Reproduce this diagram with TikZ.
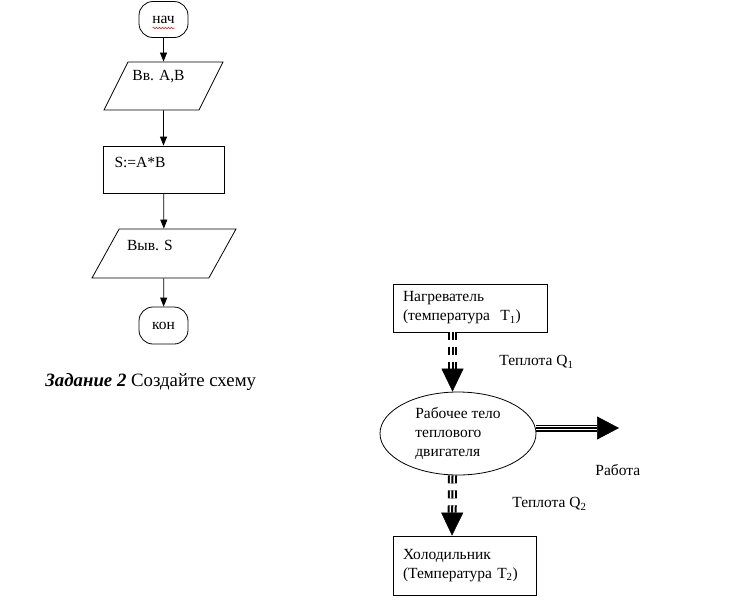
\documentclass[tikz,border=0pt]{standalone}
\usepackage{fontspec}
\setmainfont{Liberation Serif}
\usetikzlibrary{shapes.geometric,
                arrows.meta,
                decorations.pathmorphing}

\begin{document}
\begin{tikzpicture}[
  x=1pt, y=-1pt,
  font=\fontsize{15.5}{19}\selectfont,
  every node/.style = {line width=0.8pt},
  term/.style = {draw, rounded corners=14pt, minimum width=49pt,
      minimum height=36pt, inner sep=0pt},
  io/.style = {draw, trapezium, trapezium left angle=63.4,
      trapezium right angle=116.6, text depth=0pt, inner sep=0pt},
  proc/.style = {draw, minimum width=121pt, minimum height=47pt, inner sep=0pt},
  blok/.style = {draw, align=left, inner xsep=10pt, inner ysep=0pt},
  txt/.style = {anchor=west, inner sep=0pt},
  flowarrow/.style = {draw, line width=0.8pt, -{Triangle[width=7pt,length=9pt]}},
  heatpipe/.style = {draw, line width=2pt, double distance=5pt,
      dash pattern=on 8pt off 7pt, shorten >=23pt},
  heatcore/.style = {draw, line width=2pt, dash pattern=on 8pt off 7pt,
      -{Triangle[width=22pt,length=23pt,line width=0.5pt]}},
  workpipe/.style = {draw, line width=1.5pt, double distance=4pt, shorten >=22pt},
  workcore/.style = {draw, line width=1.5pt,
      -{Triangle[width=23pt,length=22pt,line width=0.5pt]}}
  ]
  \useasboundingbox (0,0) rectangle (735,611);
  % block scheme
  \node[term] (nach) at (163.5,19.5) {нач};
  \node[io, text width=71pt, text height=48pt,
      label={[xshift=-5pt,yshift=9pt]center:Вв. A,B}] (vvod) at (163.5,86) {};
  \node[proc, label={[xshift=-23.5pt,yshift=7.5pt]center:S:=A*B}] (umn) at (163.5,169.5) {};
  \node[io, trapezium left angle=61, trapezium right angle=119,
      text width=89.7pt, text height=49pt,
      label={[xshift=-14pt,yshift=8.5pt]center:Выв. S}] (vyvod) at (164,253.5) {};
  \node[term, minimum height=37pt] (kon) at (163.5,325.5) {кон};
  \foreach \a/\b in {nach/vvod, vvod/umn, umn/vyvod, vyvod/kon}
    \draw[flowarrow] (\a) -- (\b);
  \draw[red, line width=0.5pt, decorate,
      decoration={snake, amplitude=0.7pt, segment length=3pt}]
    ([shift={(-11pt,-8.5pt)}]nach.center) -- ([shift={(11pt,-8.5pt)}]nach.center);
  \node[txt, font=\fontsize{18.8}{22}\selectfont] (zad) at (45,382)
    {\textbf{\textit{Задание 2}} Создайте схему};
  % heat engine
  \node[blok, text width=134pt, minimum height=48pt] (nagr) at (470,308)
    {Нагреватель\\(температура~~T\textsubscript{1})};
  \node[draw, ellipse, minimum width=156pt, minimum height=83pt,
      inner sep=0pt, align=left] (telo) at (458,433.5)
    {Рабочее тело\\теплового\\двигателя};
  \node[blok, text width=123pt, minimum height=59pt] (hol) at (464.5,565.5)
    {Холодильник\\(Температура T\textsubscript{2})};
  \coordinate (rab) at (619,428);
  \draw[heatpipe] ([xshift=-17.5pt]nagr.south) -- ([xshift=-5.5pt]telo.north);
  \draw[heatcore] ([xshift=-17.5pt]nagr.south) -- ([xshift=-5.5pt]telo.north);
  \draw[heatpipe] ([xshift=-5.5pt]telo.south) -- ([xshift=-12.5pt]hol.north);
  \draw[heatcore] ([xshift=-5.5pt]telo.south) -- ([xshift=-12.5pt]hol.north);
  \draw[workpipe] ([yshift=5.5pt]telo.east) -- (rab);
  \draw[workcore] ([yshift=5.5pt]telo.east) -- (rab);
  \node[txt] (q1) at (499,362) {Теплота Q\textsubscript{1}};
  \node[txt] (q2) at (512,504) {Теплота Q\textsubscript{2}};
  \node[txt] (rabota) at (595,470) {Работа};
\end{tikzpicture}
\end{document}
